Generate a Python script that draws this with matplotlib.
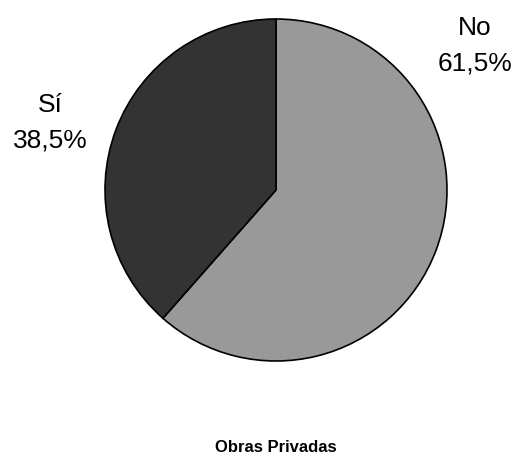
import matplotlib.pyplot as plt

plt.rcParams['font.family'] = ['Liberation Sans', 'DejaVu Sans']

# data
labels = ["No", "Sí"]
values = [61.5, 38.5]
colors = ["#999999", "#333333"]
title = "Obras Privadas"

fig = plt.figure(figsize=(5.22, 4.59), dpi=100)

# pie centred at about (276, 190) px with radius ~171 px
ax = fig.add_axes([105 / 522, 1 - 361 / 459, 342 / 522, 342 / 459])
ax.pie(values, colors=colors, startangle=90, counterclock=False,
       wedgeprops=dict(edgecolor="black", linewidth=1.2))
ax.set_xlim(-1, 1)
ax.set_ylim(-1, 1)
ax.set_aspect("equal")

# labels outside the pie
label_pos = [(475 / 522, 1 - 46 / 459), (50 / 522, 1 - 123 / 459)]
for lab, val, (x, y) in zip(labels, values, label_pos):
    txt = f"{lab}\n{val:.1f}%".replace(".", ",")
    fig.text(x, y, txt, ha="center", va="center", fontsize=19,
             linespacing=1.6)

fig.text(276 / 522, 1 - 447 / 459, title, ha="center", va="center",
         fontsize=12, fontweight="bold")

fig.savefig("out.png", dpi=100)
